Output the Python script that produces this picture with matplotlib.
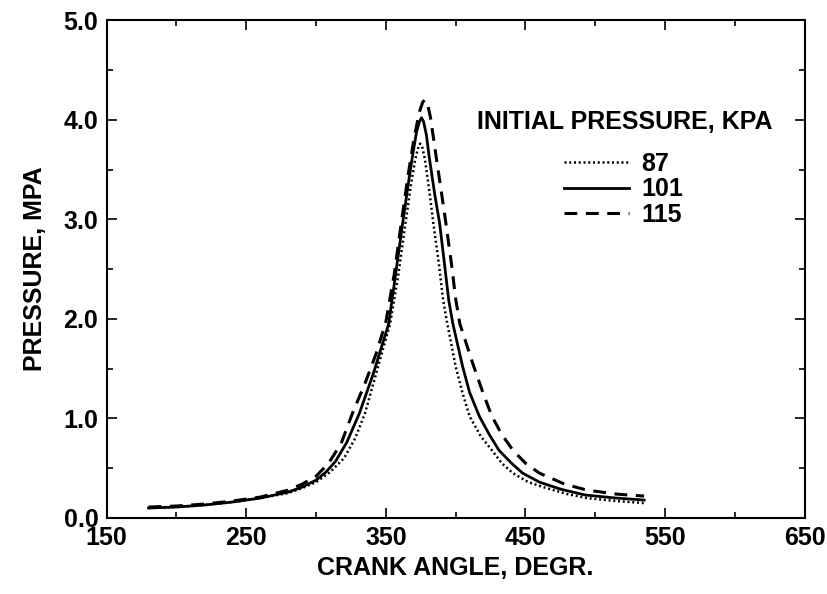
import matplotlib.pyplot as plt
from matplotlib.ticker import MultipleLocator, FormatStrFormatter

plt.rcParams['font.family'] = ['Liberation Sans', 'DejaVu Sans']
plt.rcParams['font.weight'] = 'bold'

# crank angle (deg) / pressure (MPa)
ang_87 = [180, 200, 220, 240, 260, 280, 290, 300, 310, 320, 328, 335, 344, 353, 359, 364, 368, 371, 373, 374.5,
          376, 378, 381, 384, 388, 391, 394, 400, 405, 410, 418, 426, 433, 441, 452, 465, 480, 494, 515, 535]
p_87 = [0.10, 0.11, 0.13, 0.16, 0.20, 0.25, 0.30, 0.36, 0.46, 0.60, 0.80, 1.05, 1.50, 1.95, 2.45, 2.96, 3.35, 3.60, 3.71, 3.76,
        3.73, 3.60, 3.30, 2.96, 2.55, 2.19, 1.95, 1.52, 1.25, 1.02, 0.82, 0.68, 0.55, 0.45, 0.36, 0.30, 0.24, 0.20, 0.17, 0.15]

ang_101 = [180, 200, 220, 240, 260, 280, 290, 300, 307, 314, 322, 331, 341, 352, 357, 362, 366, 369, 372, 374, 375.5,
           377, 379, 381, 385, 388.5, 392, 395, 398, 405, 410, 417, 424, 431, 440, 448, 460, 475, 493, 515, 535]
p_101 = [0.10, 0.11, 0.13, 0.16, 0.20, 0.26, 0.31, 0.38, 0.46, 0.57, 0.76, 1.05, 1.45, 1.95, 2.45, 2.96, 3.35, 3.63, 3.88, 3.98, 4.02,
         3.98, 3.85, 3.63, 3.25, 2.96, 2.55, 2.19, 1.95, 1.52, 1.26, 1.02, 0.84, 0.68, 0.55, 0.45, 0.36, 0.29, 0.23, 0.20, 0.18]

ang_115 = [180, 200, 220, 240, 260, 280, 290, 300, 309, 318, 326, 335, 343, 350, 356, 361, 366, 370, 374, 376.5,
           378, 380, 382, 386, 390, 393, 397, 400, 403, 413, 420, 426, 433, 441, 450, 460, 478, 494, 515, 535]
p_115 = [0.11, 0.12, 0.14, 0.17, 0.21, 0.28, 0.34, 0.42, 0.55, 0.75, 1.05, 1.35, 1.65, 1.97, 2.45, 2.96, 3.45, 3.80, 4.08, 4.18,
         4.20, 4.15, 4.02, 3.63, 3.25, 2.96, 2.55, 2.20, 1.95, 1.52, 1.24, 1.02, 0.84, 0.68, 0.55, 0.45, 0.34, 0.28, 0.24, 0.22]

labels = ['87', '101', '115']
x_ticks = [150, 250, 350, 450, 550, 650]

fig = plt.figure(figsize=(8.27, 5.94), dpi=100)
ax = fig.add_axes([0.129, 0.128, 0.844, 0.838])

ax.plot(ang_87, p_87, color='black', lw=1.8, linestyle=(0, (0.8, 1.1)), label=labels[0])
ax.plot(ang_101, p_101, color='black', lw=2.0, linestyle='-', label=labels[1])
ax.plot(ang_115, p_115, color='black', lw=2.2, linestyle=(0, (4.2, 2.8)), label=labels[2])

ax.set_xlim(150, 650)
ax.set_ylim(0, 5)
ax.set_xticks(x_ticks)
ax.xaxis.set_minor_locator(MultipleLocator(50))
ax.yaxis.set_major_locator(MultipleLocator(1.0))
ax.yaxis.set_minor_locator(MultipleLocator(0.5))
ax.yaxis.set_major_formatter(FormatStrFormatter('%.1f'))
ax.tick_params(which='both', direction='in', top=True, right=True, labelsize=18, width=1.2)
ax.tick_params(which='major', length=7, pad=6)
ax.tick_params(which='minor', length=4)
for s in ax.spines.values():
    s.set_linewidth(1.5)

ax.set_xlabel('CRANK ANGLE, DEGR.', fontsize=18, fontweight='bold', labelpad=4)
ax.set_ylabel('PRESSURE, MPA', fontsize=18, fontweight='bold', labelpad=12)

ax.text(0.742, 0.796, 'INITIAL PRESSURE, KPA', transform=ax.transAxes, fontsize=18,
        fontweight='bold', ha='center', va='center')
ax.legend(loc='upper left', bbox_to_anchor=(0.655, 0.735), frameon=False, fontsize=18,
          handlelength=2.6, handletextpad=0.5, labelspacing=0.05, borderpad=0, borderaxespad=0)

fig.savefig('out.png', dpi=100)
